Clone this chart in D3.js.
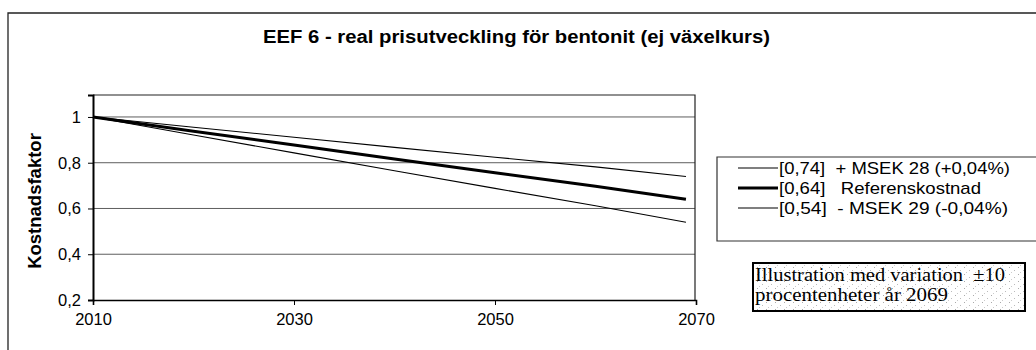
<!DOCTYPE html>
<html>
<head>
<meta charset="utf-8">
<script src="https://cdn.jsdelivr.net/npm/d3@7"></script>
<style>
  html, body { margin: 0; padding: 0; background: #fff; }
  svg { display: block; }
</style>
</head>
<body>
<svg id="chart" width="1036" height="350"></svg>
<script>
// Real price development for bentonite, cost factor relative to 2010
const years     = [2010, 2020, 2030, 2040, 2050, 2060, 2069];
const upper     = [1.00, 0.955, 0.911, 0.867, 0.824, 0.782, 0.74];
const reference = [1.00, 0.938, 0.877, 0.816, 0.756, 0.697, 0.64];
const lower     = [1.00, 0.921, 0.843, 0.765, 0.688, 0.612, 0.54];

const xTicks = [2010, 2030, 2050, 2070];
const yTicks = [0.2, 0.4, 0.6, 0.8, 1.0];

const seriesNames = [
  "[0,74]  + MSEK 28 (+0,04%)",
  "[0,64]   Referenskostnad",
  "[0,54]  - MSEK 29 (-0,04%)"
];

const title = "EEF 6 - real prisutveckling för bentonit (ej växelkurs)";
const yTitle = "Kostnadsfaktor";
const noteLines = ["Illustration med variation  ±10", "procentenheter år 2069"];

const svg = d3.select("#chart");
const sans = "'Liberation Sans', Arial, sans-serif";
const serif = "'Liberation Serif', 'Times New Roman', serif";

// outer chart frame (runs off the right and bottom edge)
svg.append("path")
  .attr("d", "M8,360 L8,13 L1040,13")
  .attr("fill", "none").attr("stroke", "#222").attr("stroke-width", 1.3);

svg.append("text")
  .attr("x", 263).attr("y", 43)
  .attr("font-family", sans).attr("font-weight", "bold").attr("font-size", 18)
  .attr("textLength", 507).attr("lengthAdjust", "spacingAndGlyphs")
  .text(title);

const plot = { left: 93, right: 695, top: 95, bottom: 300 };

const x = d3.scaleLinear().domain([2010, 2070]).range([plot.left, plot.right + 1]);
const y = d3.scaleLinear().domain([0.2, 1.096]).range([plot.bottom, plot.top]);

// gridlines
svg.append("g").selectAll("line").data(yTicks.filter(v => v > 0.2)).join("line")
  .attr("x1", plot.left).attr("x2", plot.right)
  .attr("y1", d => y(d)).attr("y2", d => y(d))
  .attr("stroke", "#5e5e5e").attr("stroke-width", 1);

// plot area top and right borders
svg.append("path")
  .attr("d", `M${plot.left},${plot.top} L${plot.right},${plot.top} L${plot.right},${plot.bottom}`)
  .attr("fill", "none").attr("stroke", "#222").attr("stroke-width", 1.2);

// y axis
const yAxis = svg.append("g")
  .attr("transform", `translate(${plot.left},0)`)
  .call(d3.axisLeft(y).tickValues(yTicks).tickSize(5).tickPadding(7)
    .tickFormat(d => d3.format(".1~f")(d).replace(".", ",")));
yAxis.select(".domain").attr("stroke", "#000").attr("stroke-width", 2);
yAxis.selectAll(".tick line").attr("stroke", "#000");
yAxis.selectAll("text").attr("font-family", sans).attr("font-size", 16.5).attr("fill", "#000");

// x axis
const xAxis = svg.append("g")
  .attr("transform", `translate(0,${plot.bottom})`)
  .call(d3.axisBottom(x).tickValues(xTicks).tickSize(5).tickPadding(8)
    .tickFormat(d3.format("d")));
xAxis.select(".domain").attr("stroke", "#000").attr("stroke-width", 1.6);
xAxis.selectAll(".tick line").attr("stroke", "#000");
xAxis.selectAll("text").attr("font-family", sans).attr("font-size", 16.5).attr("fill", "#000");

svg.append("text")
  .attr("transform", `translate(41,201) rotate(-90)`)
  .attr("text-anchor", "middle")
  .attr("font-family", sans).attr("font-weight", "bold").attr("font-size", 18.5)
  .text(yTitle);

// series
const series = [
  { values: upper, width: 1.1, textWidth: 231 },
  { values: reference, width: 3, textWidth: 202 },
  { values: lower, width: 1.1, textWidth: 229 }
];
const line = d3.line().x((d, i) => x(years[i])).y(d => y(d));
svg.append("g").selectAll("path").data(series).join("path")
  .attr("d", d => line(d.values))
  .attr("fill", "none").attr("stroke", "#000")
  .attr("stroke-width", d => d.width);

// legend
const legend = svg.append("g");
legend.append("path")
  .attr("d", "M1040,157 L717,157 L717,241 L1040,241")
  .attr("fill", "#fff").attr("stroke", "#333").attr("stroke-width", 1.2);
const rows = legend.selectAll("g").data(series).join("g")
  .attr("transform", (d, i) => `translate(0,${168 + i * 20})`);
rows.append("line")
  .attr("x1", 738).attr("x2", 778)
  .attr("stroke", "#000").attr("stroke-width", d => d.width);
rows.append("text")
  .attr("x", 779).attr("y", 6)
  .attr("font-family", sans).attr("font-size", 17)
  .attr("textLength", d => d.textWidth).attr("lengthAdjust", "spacingAndGlyphs")
  .attr("xml:space", "preserve").style("white-space", "pre")
  .text((d, i) => seriesNames[i]);

// annotation box with dotted fill
const defs = svg.append("defs");
const pat = defs.append("pattern").attr("id", "speckle")
  .attr("width", 9).attr("height", 7).attr("patternUnits", "userSpaceOnUse");
pat.append("rect").attr("width", 9).attr("height", 7).attr("fill", "#fff");
pat.append("rect").attr("x", 1).attr("y", 1).attr("width", 1).attr("height", 1).attr("fill", "#aaa");
pat.append("rect").attr("x", 6).attr("y", 4).attr("width", 1).attr("height", 1).attr("fill", "#bbb");
pat.append("rect").attr("x", 3).attr("y", 6).attr("width", 1).attr("height", 1).attr("fill", "#ccc");

const noteWidths = [250, 193];
svg.append("rect")
  .attr("x", 753).attr("y", 263).attr("width", 272).attr("height", 48)
  .attr("fill", "url(#speckle)").attr("stroke", "#000").attr("stroke-width", 2);
svg.append("g").selectAll("text").data(noteLines).join("text")
  .attr("x", 755).attr("y", (d, i) => 281 + i * 20)
  .attr("font-family", serif).attr("font-size", 18.5)
  .attr("textLength", (d, i) => noteWidths[i]).attr("lengthAdjust", "spacingAndGlyphs")
  .attr("xml:space", "preserve").style("white-space", "pre")
  .text(d => d);
</script>
</body>
</html>
